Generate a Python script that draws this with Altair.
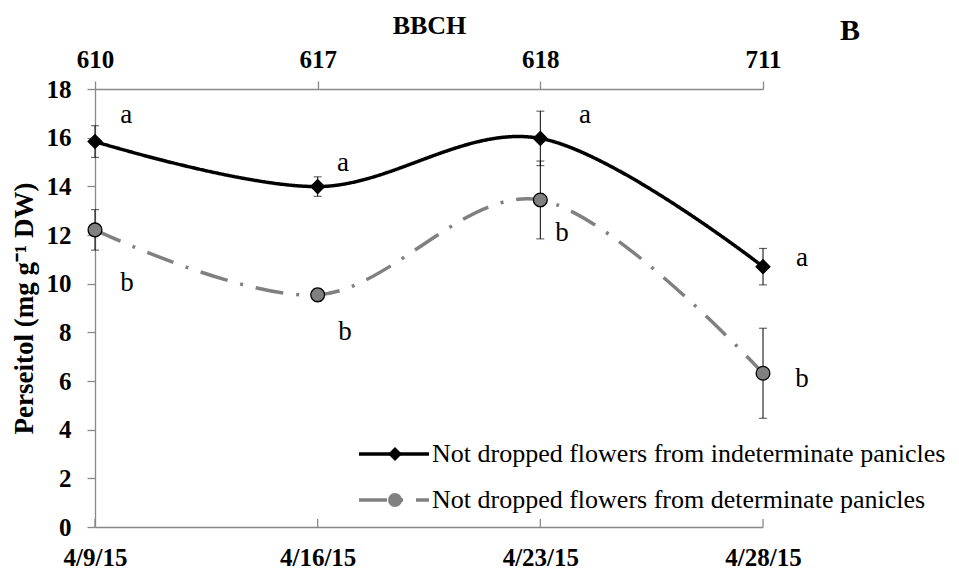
import json
import altair as alt
import pandas as pd

# ---- data ----
dates = ["4/9/15", "4/16/15", "4/23/15", "4/28/15"]
bbch = ["610", "617", "618", "711"]
series_names = [
    "Not dropped flowers from indeterminate panicles",
    "Not dropped flowers from determinate panicles",
]
indet = [15.84, 13.99, 15.97, 10.70]
indet_err = [0.65, 0.40, 1.12, 0.75]
det = [12.21, 9.54, 13.44, 6.32]
det_err = [0.83, 0.25, 1.60, 1.85]

letters = ["a", "a", "a", "a", "b", "b", "b", "b"]
letter_x = [0.14, 1.114, 2.20, 3.175, 0.144, 1.123, 2.097, 3.175]
letter_y = [16.93, 14.96, 16.93, 11.06, 10.03, 8.01, 12.08, 6.08]

y_ticks = [0, 2, 4, 6, 8, 10, 12, 14, 16, 18]

# ---- tables ----
rows = []
for s, (vals, errs) in enumerate([(indet, indet_err), (det, det_err)]):
    for i, (v, e) in enumerate(zip(vals, errs)):
        rows.append(dict(series=series_names[s], code=f"s{s}", idx=i,
                         value=v, lo=v - e, hi=v + e))
df = pd.DataFrame(rows)
lab_df = pd.DataFrame(dict(lx=letter_x, ly=letter_y, txt=letters))
tick_df = pd.DataFrame(dict(idx=list(range(len(dates)))))

FONT = "Liberation Serif"
GRAY_AX = "#898989"
W, H = 668, 438

xscale = alt.Scale(domain=[0, 3], nice=False, zero=False)
yscale = alt.Scale(domain=[0, 18], nice=False)

bottom_axis = alt.Axis(
    orient="bottom", values=list(range(4)), labelExpr=f"{json.dumps(dates)}[datum.value]",
    title=None, ticks=False, tickSize=0, labelPadding=18, grid=False, labelFlush=False,
    domainColor=GRAY_AX, domainWidth=1.3, labelFont=FONT, labelFontSize=25,
    labelFontWeight="bold", labelColor="black", labelAngle=0,
)
top_axis = alt.Axis(
    orient="top", values=list(range(4)), labelExpr=f"{json.dumps(bbch)}[datum.value]",
    title="BBCH", titleFont=FONT, titleFontSize=26, titleFontWeight="bold",
    titleColor="black", titlePadding=9, tickSize=8, tickColor=GRAY_AX, tickWidth=1.3,
    labelPadding=9, grid=False, domainColor=GRAY_AX, domainWidth=1.3, labelFlush=False,
    labelFont=FONT, labelFontSize=25, labelFontWeight="bold", labelColor="black",
    labelAngle=0,
)
y_axis = alt.Axis(
    orient="left", values=y_ticks, title="Perseitol (mg g\u207b\u00b9 DW)", titleFont=FONT,
    titleFontSize=27, titleFontWeight="bold", titleColor="black", titlePadding=8,
    tickSize=8, tickColor=GRAY_AX, tickWidth=1.3, labelPadding=16, grid=False,
    domainColor=GRAY_AX, domainWidth=1.3, labelFont=FONT, labelFontSize=25,
    labelFontWeight="bold", labelColor="black", labelFlush=False,
)

legend_line = alt.Legend(
    title=None, orient="none", legendX=286, legendY=352, padding=0,
    symbolType="M-5,0L5,0", symbolSize=196, symbolStrokeWidth=3.5,
    labelFont=FONT, labelFontSize=26, labelColor="black", labelOffset=25,
    rowPadding=20, labelLimit=1000,
)
legend_pts = alt.Legend(
    title=None, orient="none", legendX=287, legendY=352, padding=0,
    symbolSize=196, symbolStrokeWidth=1.3, symbolStrokeColor="black",
    labelFont=FONT, labelFontSize=26, labelExpr="''", labelOffset=25,
    rowPadding=20, labelLimit=1000,
)

line = alt.Chart(df).mark_line(interpolate="cardinal", strokeWidth=3.5).encode(
    x=alt.X("idx:Q", scale=xscale, axis=bottom_axis),
    y=alt.Y("value:Q", scale=yscale, axis=y_axis),
    stroke=alt.Stroke("series:N", scale=alt.Scale(domain=series_names, range=["#000000", "#808080"]),
                      legend=legend_line),
    strokeDash=alt.StrokeDash("series:N", scale=alt.Scale(domain=series_names, range=[[1, 0], [28, 13, 3, 13]]),
                              legend=legend_line),
)

err_rule = alt.Chart(df).mark_rule(color="black", strokeWidth=1).encode(
    x=alt.X("idx:Q", scale=xscale, axis=None),
    y=alt.Y("lo:Q", scale=yscale, axis=None),
    y2="hi:Q",
)
cap_lo = alt.Chart(df).mark_tick(orient="horizontal", size=8, thickness=1, color="black").encode(
    x=alt.X("idx:Q", scale=xscale, axis=None),
    y=alt.Y("lo:Q", scale=yscale, axis=None),
)
cap_hi = alt.Chart(df).mark_tick(orient="horizontal", size=8, thickness=1, color="black").encode(
    x=alt.X("idx:Q", scale=xscale, axis=None),
    y=alt.Y("hi:Q", scale=yscale, axis=None),
)

pts = alt.Chart(df).mark_point(filled=True, size=190, stroke="black", strokeWidth=1.3, opacity=1).encode(
    x=alt.X("idx:Q", scale=xscale, axis=top_axis),
    y=alt.Y("value:Q", scale=yscale, axis=None),
    shape=alt.Shape("code:N", scale=alt.Scale(range=["diamond", "circle"]), legend=legend_pts),
    fill=alt.Fill("code:N", scale=alt.Scale(range=["#000000", "#808080"]), legend=legend_pts),
)

labels = alt.Chart(lab_df).mark_text(font=FONT, fontSize=27, color="black").encode(
    x=alt.X("lx:Q", scale=xscale, axis=None),
    y=alt.Y("ly:Q", scale=yscale, axis=None),
    text="txt:N",
)

inner_ticks = alt.Chart(tick_df).mark_rule(color=GRAY_AX, strokeWidth=1.3).encode(
    x=alt.X("idx:Q", scale=xscale, axis=None),
    y=alt.value(H),
    y2=alt.value(H - 8),
)

chart = alt.layer(line, inner_ticks, err_rule, cap_lo, cap_hi, pts, labels).resolve_axis(
    x="independent", y="independent"
).properties(
    width=W, height=H,
    title=alt.TitleParams("B", anchor="end", frame="group", font=FONT, fontSize=30,
                          fontWeight="bold", color="black", dx=97, dy=38),
    autosize=alt.AutoSizeParams(type="none"),
    padding={"left": 87, "top": 81, "right": 188, "bottom": 46},
    background="white",
).configure_view(stroke=None)

chart.save("out.html", embed_options={"renderer": "svg", "actions": False})
